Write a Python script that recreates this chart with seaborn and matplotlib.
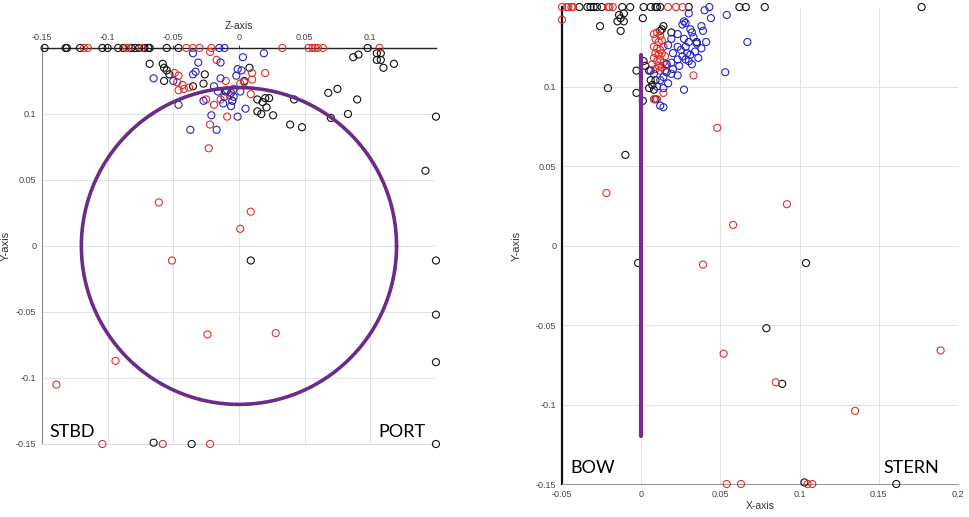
import numpy as np
import matplotlib
matplotlib.use("Agg")
import matplotlib.pyplot as plt
import seaborn as sns

# ---- left view: Z (horizontal) vs Y ----
left_black_z = [-0.148, -0.132, -0.131, -0.121, -0.104, -0.100, -0.092, -0.088, -0.082, -0.079,
                -0.076, -0.072, -0.069, -0.068, -0.055, -0.046, 0.098,
                -0.068, -0.058, -0.057, -0.055, -0.053, -0.057, -0.026, -0.027, -0.035, 0.008,
                0.014, 0.018, 0.020, 0.023, 0.014, 0.017, 0.021, 0.026, 0.042, 0.039, 0.048,
                0.068, 0.075, 0.070, 0.083, 0.090, 0.087, 0.091, 0.105, 0.108, 0.105, 0.108,
                0.110, 0.118, 0.150, 0.142, 0.150, 0.150, 0.150, 0.150, 0.009, -0.065, -0.036,
                -0.010, -0.005, 0.004]
left_black_y = [0.150, 0.150, 0.150, 0.150, 0.150, 0.150, 0.150, 0.150, 0.150, 0.150,
                0.150, 0.150, 0.150, 0.150, 0.150, 0.150, 0.150,
                0.138, 0.138, 0.135, 0.133, 0.130, 0.125, 0.130, 0.123, 0.121, 0.135,
                0.111, 0.109, 0.112, 0.112, 0.102, 0.100, 0.105, 0.099, 0.111, 0.092, 0.090,
                0.116, 0.119, 0.097, 0.100, 0.111, 0.143, 0.145, 0.146, 0.146, 0.141, 0.141,
                0.135, 0.138, 0.098, 0.057, -0.011, -0.052, -0.088, -0.150, -0.011, -0.149, -0.150,
                0.117, 0.110, 0.125]

left_red_z = [-0.118, -0.115, -0.086, -0.084, -0.074, -0.040, -0.035, -0.030, -0.021, 0.033,
              0.053, 0.056, 0.058, 0.060, 0.064, 0.107,
              -0.049, -0.046, -0.047, -0.043, -0.046, -0.042, -0.038, -0.022, -0.017, 0.010,
              0.020, 0.010, 0.004, -0.010, -0.025, -0.019, -0.022, -0.009, -0.023, -0.007,
              -0.004, 0.001, 0.009, -0.014,
              -0.061, -0.051, 0.001, 0.009, -0.024, 0.028, -0.094, -0.139, -0.104, -0.058, -0.022]
left_red_y = [0.150, 0.150, 0.150, 0.150, 0.150, 0.150, 0.150, 0.150, 0.150, 0.150,
              0.150, 0.150, 0.150, 0.150, 0.150, 0.150,
              0.131, 0.129, 0.124, 0.122, 0.118, 0.119, 0.120, 0.147, 0.141, 0.131,
              0.131, 0.126, 0.124, 0.125, 0.111, 0.107, 0.092, 0.098, 0.074, 0.114,
              0.119, 0.123, 0.115, 0.111,
              0.033, -0.011, 0.013, 0.026, -0.067, -0.066, -0.087, -0.105, -0.150, -0.150, -0.150]

left_blue_z = [-0.015, -0.011, -0.065, -0.050, -0.035, -0.031, -0.033, -0.035, -0.014, 0.003,
               -0.001, 0.002, 0.019, -0.014, -0.046, -0.027, -0.012, -0.006, -0.021, -0.001,
               -0.017, -0.037, -0.009, -0.006, -0.004, -0.011, 0.001, 0.005, -0.002, -0.019,
               -0.016]
left_blue_y = [0.150, 0.150, 0.127, 0.125, 0.146, 0.139, 0.132, 0.130, 0.139, 0.143,
               0.134, 0.133, 0.146, 0.127, 0.107, 0.110, 0.108, 0.106, 0.099, 0.098,
               0.088, 0.088, 0.118, 0.116, 0.113, 0.113, 0.117, 0.104, 0.129, 0.121,
               0.117]

# ---- right view: X (horizontal) vs Y ----
right_black_x = [-0.039, -0.034, -0.032, -0.030, -0.028, -0.025, -0.012, -0.007, 0.0015, 0.006,
                 0.009, 0.010, 0.012, 0.030, 0.062, 0.066, 0.078, 0.177,
                 -0.026, -0.014, -0.011, -0.013, -0.015, -0.011, -0.013, 0.001, -0.021, -0.003,
                 -0.003, -0.010, 0.001, 0.014, 0.013, 0.012, 0.019, 0.035, 0.005, 0.006,
                 0.007, 0.009, 0.008, 0.005, 0.0015, 0.0025, 0.009,
                 -0.002, 0.104, 0.079, 0.089, 0.161, 0.103]
right_black_y = [0.150, 0.150, 0.150, 0.150, 0.150, 0.150, 0.150, 0.150, 0.150, 0.150,
                 0.150, 0.150, 0.150, 0.150, 0.150, 0.150, 0.150, 0.150,
                 0.138, 0.145, 0.146, 0.143, 0.141, 0.141, 0.135, 0.143, 0.099, 0.110,
                 0.096, 0.057, 0.091, 0.138, 0.136, 0.135, 0.134, 0.128, 0.110, 0.104,
                 0.101, 0.104, 0.098, 0.099, 0.116, 0.113, 0.092,
                 -0.011, -0.011, -0.052, -0.087, -0.150, -0.149]

right_red_x = [-0.050, -0.047, -0.046, -0.044, -0.043, -0.021, -0.020, -0.018, 0.017, 0.022,
               0.026, -0.050,
               0.008, 0.010, 0.012, 0.009, 0.011, 0.013, 0.008, 0.010, 0.012, 0.014,
               0.009, 0.011, 0.013, 0.015, 0.008, 0.010, 0.012, 0.014, 0.011, 0.013,
               0.016, 0.007, 0.009, 0.012, 0.015,
               0.033, 0.048, 0.014, 0.008, 0.010,
               -0.022, 0.092, 0.058, 0.039, 0.052, 0.189, 0.085, 0.135,
               0.054, 0.063, 0.105, 0.108]
right_red_y = [0.150, 0.150, 0.150, 0.150, 0.150, 0.150, 0.150, 0.150, 0.150, 0.150,
               0.150, 0.142,
               0.133, 0.134, 0.132, 0.130, 0.128, 0.129, 0.125, 0.124, 0.123, 0.125,
               0.121, 0.120, 0.121, 0.119, 0.118, 0.116, 0.117, 0.115, 0.113, 0.112,
               0.114, 0.114, 0.111, 0.110, 0.110,
               0.107, 0.074, 0.096, 0.092, 0.092,
               0.033, 0.026, 0.013, -0.012, -0.068, -0.066, -0.086, -0.104,
               -0.150, -0.150, -0.150, -0.150]

right_blue_x = [0.043, 0.040,
                0.030, 0.027, 0.026, 0.028, 0.038, 0.039, 0.031, 0.032, 0.023, 0.019,
                0.027, 0.030, 0.033, 0.035, 0.038, 0.023, 0.025, 0.028, 0.017, 0.020,
                0.029, 0.031, 0.026, 0.023, 0.019, 0.016, 0.028, 0.030, 0.032, 0.024,
                0.020, 0.016, 0.019, 0.023, 0.014, 0.012, 0.017, 0.010, 0.014, 0.027,
                0.012, 0.014, 0.053, 0.067, 0.044, 0.054, 0.041, 0.036, 0.034, 0.008, 0.006]
right_blue_y = [0.150, 0.148,
                0.146, 0.141, 0.139, 0.140, 0.138, 0.135, 0.136, 0.134, 0.133, 0.130,
                0.130, 0.128, 0.131, 0.127, 0.124, 0.125, 0.123, 0.125, 0.126, 0.121,
                0.121, 0.120, 0.119, 0.117, 0.115, 0.114, 0.117, 0.116, 0.114, 0.113,
                0.111, 0.109, 0.108, 0.107, 0.106, 0.104, 0.102, 0.100, 0.099, 0.098,
                0.088, 0.087, 0.109, 0.128, 0.143, 0.145, 0.128, 0.118, 0.122, 0.108, 0.110]

circle_radius = 0.12
bow_line_x = [0.0, 0.0]
bow_line_y = [-0.12, 0.12]

left_ticks = [-0.15, -0.1, -0.05, 0, 0.05, 0.1]
left_tick_labels = ["-0.15", "-0.1", "-0.05", "0", "0.05", "0.1"]
right_xticks = [-0.05, 0, 0.05, 0.1, 0.15, 0.2]
right_xtick_labels = ["-0.05", "0", "0.05", "0.1", "0.15", "0.2"]

sns.set_style("white")
plt.rcParams['font.family'] = ['Liberation Sans', 'DejaVu Sans']

fig = plt.figure(figsize=(9.69, 5.17), dpi=100)
ax1 = fig.add_axes([0.0433, 0.1412, 0.4066, 0.766])
ax2 = fig.add_axes([0.580, 0.0638, 0.4087, 0.9226])

colors = {"black": "#111111", "red": "#e0302c", "blue": "#2424c8"}


def hollow(ax, xs, ys, col):
    sns.scatterplot(x=xs, y=ys, ax=ax, s=26, marker="o", facecolors="none",
                    edgecolor=col, linewidth=0.8, zorder=3, clip_on=False)


# left panel
hollow(ax1, left_black_z, left_black_y, colors["black"])
hollow(ax1, left_red_z, left_red_y, colors["red"])
hollow(ax1, left_blue_z, left_blue_y, colors["blue"])
theta = np.linspace(0, 2 * np.pi, 400)
ax1.plot(circle_radius * np.cos(theta), circle_radius * np.sin(theta),
         color="#6a2c86", lw=2.6, zorder=4)

ax1.set_xlim(-0.15, 0.15)
ax1.set_ylim(-0.15, 0.15)
ax1.xaxis.tick_top()
ax1.xaxis.set_label_position("top")
ax1.set_xticks(left_ticks)
ax1.set_xticklabels(left_tick_labels)
ax1.set_yticks(left_ticks[::-1])
ax1.set_yticklabels(left_tick_labels[::-1])
ax1.set_xlabel("Z-axis", fontsize=7.5, color="#333333", labelpad=3)
ax1.set_ylabel("Y-axis", fontsize=8, color="#333333", labelpad=4)
ax1.grid(True, color="#e2e2e2", lw=0.7)
ax1.tick_params(labelsize=6.5, colors="#444444", length=2, pad=2)
ax1.spines["top"].set_color("#222222")
ax1.spines["top"].set_linewidth(1.0)
ax1.spines["left"].set_color("#888888")
ax1.spines["bottom"].set_color("#dddddd")
ax1.spines["right"].set_visible(False)
ax1.text(-0.144, -0.145, "STBD", fontsize=13, family="Lato", color="black")
ax1.text(0.142, -0.145, "PORT", fontsize=13, family="Lato", color="black", ha="right")

# right panel
hollow(ax2, right_black_x, right_black_y, colors["black"])
hollow(ax2, right_red_x, right_red_y, colors["red"])
hollow(ax2, right_blue_x, right_blue_y, colors["blue"])
sns.lineplot(x=bow_line_x, y=bow_line_y, ax=ax2, color="#7a2a98", lw=3,
             sort=False, estimator=None, zorder=4)

ax2.set_xlim(-0.05, 0.2)
ax2.set_ylim(-0.15, 0.15)
ax2.set_xticks(right_xticks)
ax2.set_xticklabels(right_xtick_labels)
ax2.set_yticks(left_ticks[::-1])
ax2.set_yticklabels(left_tick_labels[::-1])
ax2.set_xlabel("X-axis", fontsize=7.5, color="#333333", labelpad=2)
ax2.set_ylabel("Y-axis", fontsize=8, color="#333333", labelpad=10)
ax2.grid(True, color="#e2e2e2", lw=0.7)
ax2.tick_params(labelsize=6.5, colors="#444444", length=2, pad=2)
ax2.spines["left"].set_color("#111111")
ax2.spines["left"].set_linewidth(1.6)
ax2.spines["bottom"].set_color("#999999")
ax2.spines["top"].set_visible(False)
ax2.spines["right"].set_visible(False)
ax2.text(-0.045, -0.143, "BOW", fontsize=13, family="Lato", color="black")
ax2.text(0.188, -0.143, "STERN", fontsize=13, family="Lato", color="black", ha="right")

fig.savefig("out.png", dpi=100)
